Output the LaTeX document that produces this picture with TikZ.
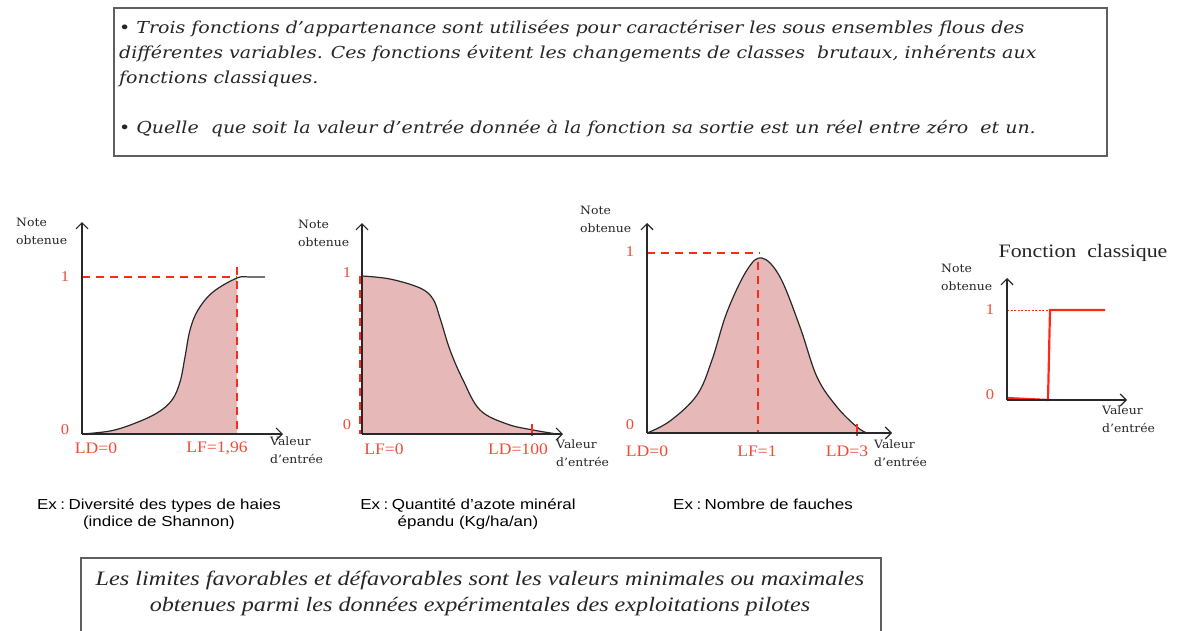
\documentclass[tikz,border=0pt]{standalone}
\usepackage{fontspec}
\setmainfont{Liberation Serif}
\newfontfamily\boxfont{DejaVu Serif}[FakeStretch=1.15]
\newfontfamily\smallfont{DejaVu Serif}[FakeStretch=1.08]
\newfontfamily\serifw{Liberation Serif}[FakeStretch=1.1]
\newfontfamily\titlefont{Liberation Serif}[FakeStretch=1.15]
\newfontfamily\botfont{Liberation Serif}[FakeStretch=1.18]
\newfontfamily\capfont{Liberation Sans}[FakeStretch=1.17]
\usetikzlibrary{arrows.meta}
\definecolor{fred}{RGB}{255,40,25}
\definecolor{lred}{RGB}{240,75,55}
\definecolor{fillpink}{RGB}{230,185,184}
\definecolor{boxgray}{RGB}{95,95,95}
\definecolor{axisk}{RGB}{40,40,40}
\newcommand{\excolon}{Ex\hspace{3.5pt}:\hspace{3.5pt}}
\begin{document}
\begin{tikzpicture}[x=1pt,y=-1pt,
 axis/.style={draw=axisk, line width=1.2pt, -{Straight Barb[length=6pt,width=12pt,line width=1.2pt]}},
 curve/.style={draw=axisk,line width=1.2pt},
 rdash/.style={draw=fred,line width=2.6pt,dash pattern=on 8pt off 6pt},
 rtick/.style={draw=fred,line width=2pt},
 lab/.style={text=lred,font=\serifw\fontsize{16}{16}\selectfont,inner sep=0pt},
 ylab/.style={text=lred,font=\serifw\fontsize{15}{15}\selectfont,inner sep=0pt},
 small/.style={font=\smallfont\fontsize{11.5}{17.5}\selectfont,inner sep=0pt,align=left,text=black!85},
 captxt/.style={font=\capfont\fontsize{14.5}{17}\selectfont,inner sep=0pt,align=center,text=black},
 boxline/.style={font=\boxfont\itshape\fontsize{16.5}{20}\selectfont,inner sep=0pt,anchor=base west,text=black!85},
 botline/.style={font=\botfont\itshape\fontsize{20.5}{24}\selectfont,inner sep=0pt,anchor=base,text=black!85},
 frame/.style={draw=boxgray,line width=1.6pt},
]
\useasboundingbox (0,0) rectangle (1178,630);
\fill[white] (0,0) rectangle (1178,630);

% ---------- top box ----------
\node (topbox) [frame, anchor=north west, minimum width=993pt, minimum height=148pt, inner sep=0pt] at (113,7) {};
\node (t1) [boxline] at (119,33) {• Trois fonctions d’appartenance sont utilisées pour caractériser les sous ensembles flous des};
\node (t2) [boxline] at (119,58) {différentes variables. Ces fonctions évitent les changements de classes \ brutaux, inhérents aux};
\node (t3) [boxline] at (119,83) {fonctions classiques.};
\node (t4) [boxline] at (119,133) {• Quelle \ que soit la valeur d’entrée donnée à la fonction sa sortie est un réel entre zéro \ et un.};

% ---------- chart 1 ----------
\coordinate (o1) at (82,434);
\coordinate (y1) at (82,222);
\coordinate (x1) at (283,434);
\fill[fillpink] plot[smooth,tension=0.6] coordinates {(82,434) (110,431) (133,424) (157,413) (172,400) (180,382) (185,357) (190,330) (198,310) (213,292) (237,278)} -- (237,434) -- cycle;
\draw[curve] plot[smooth,tension=0.6] coordinates {(82,434) (110,431) (133,424) (157,413) (172,400) (180,382) (185,357) (190,330) (198,310) (213,292) (237,278) (250,277) (265,277)};
\coordinate (h1a) at (82,277);
\coordinate (h1b) at (237,277);
\coordinate (v1a) at (237,267);
\coordinate (v1b) at (237,434);
\draw[rdash] (h1a) -- (h1b);
\draw[rdash] (v1a) -- (v1b);
\draw[axis] (o1) -- (y1);
\draw[axis] (o1) -- (x1);
\node (n1) [small, anchor=north west] at (16,218) {Note\\obtenue};
\node (one1) [ylab] at (65,277) {1};
\node (zero1) [ylab] at (65,430) {0};
\node (ld1) [lab] at (96,448) {LD=0};
\node (lf1) [lab] at (217,448) {LF=1,96};
\node (val1) [small, anchor=north west] at (270,437) {Valeur\\d’entrée};

% ---------- chart 2 ----------
\coordinate (o2) at (362,434);
\coordinate (y2) at (362,223);
\coordinate (x2) at (563,434);
\fill[fillpink] plot[smooth,tension=0.6] coordinates {(362,276) (390,279) (420,288) (433,299) (440,318) (450,350) (463,380) (480,410) (507,424) (533,430) (557,434)} -- (362,434) -- cycle;
\draw[curve] plot[smooth,tension=0.6] coordinates {(362,276) (390,279) (420,288) (433,299) (440,318) (450,350) (463,380) (480,410) (507,424) (533,430) (557,434)};
\coordinate (v2a) at (360,276);
\coordinate (v2b) at (360,434);
\draw[rdash] (v2a) -- (v2b);
\coordinate (k2a) at (532,424);
\coordinate (k2b) at (532,436);
\draw[rtick] (k2a) -- (k2b);
\draw[axis] (o2) -- (y2);
\draw[axis] (o2) -- (x2);
\node (n2) [small, anchor=north west] at (298,220) {Note\\obtenue};
\node (one2) [ylab] at (347,273) {1};
\node (zero2) [ylab] at (347,425) {0};
\node (lf2) [lab] at (384,449) {LF=0};
\node (ld2) [lab] at (518,449) {LD=100};
\node (val2) [small, anchor=north west] at (556,440) {Valeur\\d’entrée};

% ---------- chart 3 ----------
\coordinate (o3) at (647,433);
\coordinate (y3) at (647,223);
\coordinate (x3) at (892,433);
\fill[fillpink] plot[smooth,tension=0.6] coordinates {(647,433) (670,421) (697,395) (712,360) (727,312) (747,270) (762,258) (780,277) (800,327) (817,377) (837,407) (857,427) (867,433)} -- cycle;
\draw[curve] plot[smooth,tension=0.6] coordinates {(647,433) (670,421) (697,395) (712,360) (727,312) (747,270) (762,258) (780,277) (800,327) (817,377) (837,407) (857,427) (867,433)};
\coordinate (h3a) at (647,253);
\coordinate (h3b) at (760,253);
\coordinate (v3a) at (758,262);
\coordinate (v3b) at (758,433);
\draw[rdash] (h3a) -- (h3b);
\draw[rdash] (v3a) -- (v3b);
\coordinate (k3a) at (857,424);
\coordinate (k3b) at (857,436);
\draw[rtick] (k3a) -- (k3b);
\draw[axis] (o3) -- (y3);
\draw[axis] (o3) -- (x3);
\node (n3) [small, anchor=north west] at (580,206) {Note\\obtenue};
\node (one3) [ylab] at (630,252) {1};
\node (zero3) [ylab] at (630,425) {0};
\node (ld3) [lab] at (647,451) {LD=0};
\node (lf3) [lab] at (757,451) {LF=1};
\node (ld3b) [lab] at (847,451) {LD=3};
\node (val3) [small, anchor=north west] at (874,440) {Valeur\\d’entrée};

% ---------- chart 4 ----------
\node (title4) [font=\titlefont\fontsize{19}{19}\selectfont, inner sep=0pt, text=black!85] at (1083,253) {Fonction \ classique};
\coordinate (o4) at (1007,400);
\coordinate (y4) at (1007,278);
\coordinate (x4) at (1127,400);
\coordinate (d4a) at (1007,310);
\coordinate (d4b) at (1050,310);
\draw[draw=fred, line width=0.8pt, dash pattern=on 2pt off 1.5pt] (d4a) -- (d4b);
\coordinate (s4a) at (1007,398);
\coordinate (s4b) at (1048,400);
\coordinate (s4c) at (1050,310);
\coordinate (s4d) at (1105,310);
\draw[draw=fred, line width=2.2pt] (s4a) -- (s4b) -- (s4c) -- (s4d);
\draw[axis] (o4) -- (y4);
\draw[axis] (o4) -- (x4);
\node (n4) [small, anchor=north west] at (941,264) {Note\\obtenue};
\node (one4) [ylab] at (990,310) {1};
\node (zero4) [ylab] at (990,395) {0};
\node (val4) [small, anchor=north west] at (1102,406) {Valeur\\d’entrée};

% ---------- captions ----------
\node (c1) [captxt, anchor=north] at (159,499) {\excolon Diversité des types de haies\\(indice de Shannon)};
\node (c2) [captxt, anchor=north] at (468,499) {\excolon Quantité d’azote minéral\\épandu (Kg/ha/an)};
\node (c3) [captxt, anchor=north] at (763,499) {\excolon Nombre de fauches};

% ---------- bottom box ----------
\coordinate (bb1) at (81,631);
\coordinate (bb2) at (81,558);
\coordinate (bb3) at (881,558);
\coordinate (bb4) at (881,631);
\draw[frame] (bb1) -- (bb2) -- (bb3) -- (bb4);
\node (b1) [botline] at (480,585) {Les limites favorables et défavorables sont les valeurs minimales ou maximales};
\node (b2) [botline] at (480,611) {obtenues parmi les données expérimentales des exploitations pilotes};
\end{tikzpicture}
\end{document}
